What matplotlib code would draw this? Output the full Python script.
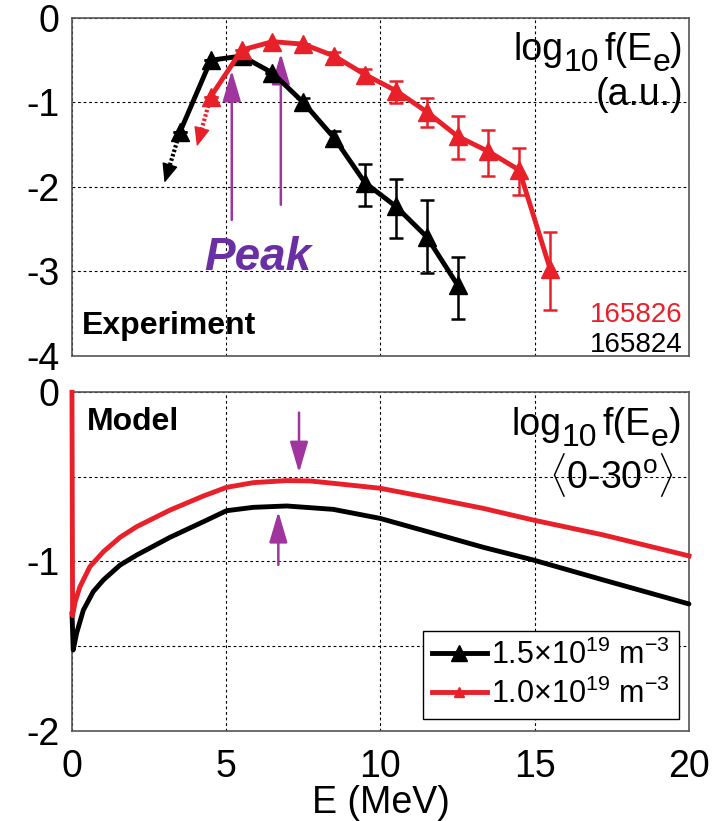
import matplotlib
matplotlib.use("Agg")
import matplotlib.pyplot as plt
from matplotlib.transforms import offset_copy

plt.rcParams['font.family'] = ['Liberation Sans', 'DejaVu Sans']
plt.rcParams['mathtext.fontset'] = 'custom'
plt.rcParams['mathtext.rm'] = 'Liberation Sans'
plt.rcParams['mathtext.it'] = 'Liberation Sans:italic'
plt.rcParams['mathtext.bf'] = 'Liberation Sans:bold'
plt.rcParams['axes.unicode_minus'] = False

RED = '#e8202a'
PURPLE = '#a0359e'
PEAK = '#6a2fa3'

# measured spectra (shot 165824, black)
e_824 = [3.5, 4.5, 5.5, 6.5, 7.5, 8.5, 9.5, 10.5, 11.5, 12.5]
f_824 = [-1.35, -0.50, -0.45, -0.65, -1.00, -1.42, -1.95, -2.23, -2.59, -3.16]
lo_824 = [0, 0, 0, 0, 0.05, 0.08, 0.27, 0.37, 0.43, 0.40]
hi_824 = [0, 0, 0, 0, 0.05, 0.08, 0.22, 0.33, 0.44, 0.33]

# measured spectra (shot 165826, red)
e_826 = [4.5, 5.5, 6.5, 7.5, 8.5, 9.5, 10.5, 11.5, 12.5, 13.5, 14.5, 15.5]
f_826 = [-0.93, -0.38, -0.28, -0.31, -0.45, -0.67, -0.86, -1.11, -1.40, -1.58, -1.80, -2.97]
lo_826 = [0, 0, 0, 0, 0.05, 0.09, 0.15, 0.18, 0.27, 0.29, 0.29, 0.49]
hi_826 = [0, 0, 0, 0, 0.05, 0.07, 0.11, 0.16, 0.24, 0.26, 0.26, 0.44]

# dotted arrows: lowest-energy points are only upper limits
limit_824 = [(3.5, -1.35), (3.0, -1.95)]
limit_826 = [(4.5, -0.93), (4.05, -1.52)]

# peak markers (x, y_from, y_to)
peaks_top = [(5.18, -2.39, -0.62), (6.77, -2.21, -0.42)]
peaks_model = [(7.36, -0.12, -0.475), (6.69, -1.02, -0.705)]

# model distributions
e_model_hi = [0, 0.04, 0.15, 0.37, 0.69, 1.02, 1.56, 2.10, 3.18, 4.26, 5.01, 5.88, 6.96,
              8.47, 9.98, 11.71, 13.33, 14.95, 17.22, 20.0]
f_model_hi = [-1.30, -1.523, -1.424, -1.287, -1.178, -1.109, -1.021, -0.962, -0.857, -0.765,
              -0.700, -0.680, -0.672, -0.692, -0.745, -0.833, -0.916, -0.991, -1.109, -1.251]
e_model_lo = [0, 0.02, 0.10, 0.26, 0.58, 1.02, 1.56, 2.10, 3.18, 4.26, 5.01, 5.88, 6.96,
              7.71, 8.47, 9.98, 11.71, 13.33, 14.95, 17.22, 20.0]
f_model_lo = [0, -1.32, -1.24, -1.149, -1.031, -0.942, -0.857, -0.794, -0.696, -0.613, -0.562,
              -0.534, -0.522, -0.524, -0.538, -0.567, -0.627, -0.686, -0.755, -0.843, -0.967]

x_ticks = [0, 5, 10, 15, 20]

# y-axis label pieces: (text, fontsize, vertical shift in px, gap after in px)
ylabel_parts = [('log', 27, 0, 0), ('10', 23, -11, 5), ('f(E', 27, 0, 0),
                ('e', 23, -11, 0), (')', 27, 0, 0)]


def style_axes(ax):
    for s in ax.spines.values():
        s.set_color('#555555')
        s.set_linewidth(1.2)
    ax.grid(True, color='black', linestyle=(0, (2.5, 2.5)), linewidth=0.8)
    ax.set_axisbelow(True)
    ax.tick_params(length=0, labelsize=27, pad=9)
    ax.tick_params(axis='x', pad=13)
    ax.set_xlim(0, 20)
    ax.set_xticks(x_ticks)


def dotted_arrow(ax, pts, color):
    (x0, y0), (x1, y1) = pts
    # head covers the last quarter, the shaft is a dotted line
    xb = x1 - 0.27 * (x1 - x0)
    yb = y1 - 0.27 * (y1 - y0)
    ax.plot([x0, xb], [y0, yb], color=color, lw=3, linestyle=(0, (0.6, 0.5)),
            dash_capstyle='butt', zorder=2)
    ax.annotate('', xy=(x1, y1), xytext=(xb, yb),
                arrowprops=dict(arrowstyle='-|>,head_length=0.6,head_width=0.25',
                                color=color, lw=1, shrinkA=0, shrinkB=0,
                                mutation_scale=20))


def peak_arrow(ax, x, y0, y1):
    ax.annotate('', xy=(x, y1), xytext=(x, y0),
                arrowprops=dict(arrowstyle='-|>,head_length=0.95,head_width=0.28',
                                color=PURPLE, lw=1.8, shrinkA=0, shrinkB=0,
                                mutation_scale=20))


def right_label(ax, x, y, parts):
    # lay out the pieces left to right so the whole label ends at (x, y)
    r = fig.canvas.get_renderer()
    texts, widths = [], []
    for s, size, dy, gap in parts:
        t = ax.text(x, y, s, fontsize=size, va='baseline', transform=ax.transAxes)
        texts.append(t)
        widths.append(t.get_window_extent(r).width + gap)
    cursor = -sum(widths)
    for t, w, (s, size, dy, gap) in zip(texts, widths, parts):
        t.set_transform(offset_copy(ax.transAxes, fig=fig, x=cursor, y=dy, units='dots'))
        cursor += w


fig = plt.figure(figsize=(7.14, 8.21), dpi=100)
ax1 = fig.add_axes([0.1008, 0.5664, 0.8641, 0.4117])
ax2 = fig.add_axes([0.1008, 0.1100, 0.8641, 0.4122])

# --- experiment ---
style_axes(ax1)
ax1.set_ylim(-4, 0)
ax1.set_yticks([0, -1, -2, -3, -4])
ax1.tick_params(labelbottom=False)

dotted_arrow(ax1, limit_824, 'black')
dotted_arrow(ax1, limit_826, RED)
ax1.errorbar(e_824, f_824, yerr=[lo_824, hi_824], color='black', lw=3.5, marker='^',
             ms=13, capsize=5, elinewidth=1.8, capthick=1.8, zorder=3)
ax1.errorbar(e_826, f_826, yerr=[lo_826, hi_826], color=RED, lw=3.5, marker='^',
             ms=13, capsize=5, elinewidth=1.8, capthick=1.8, zorder=4)
for x, y0, y1 in peaks_top:
    peak_arrow(ax1, x, y0, y1)

ax1.text(6.03, -2.98, 'Peak', color=PEAK, fontsize=33, fontweight='bold',
         fontstyle='italic', ha='center', va='baseline')
ax1.text(0.016, 0.065, 'Experiment', transform=ax1.transAxes, fontsize=23,
         fontweight='bold', va='baseline')
right_label(ax1, 0.99, 0.876, ylabel_parts)
ax1.text(0.99, 0.743, '(a.u.)', transform=ax1.transAxes, fontsize=27,
         ha='right', va='baseline')
ax1.text(0.99, 0.101, '165826', transform=ax1.transAxes, fontsize=20, color=RED,
         ha='right', va='baseline')
ax1.text(0.99, 0.013, '165824', transform=ax1.transAxes, fontsize=20,
         ha='right', va='baseline')

# --- model ---
style_axes(ax2)
ax2.set_ylim(-2, 0)
ax2.set_yticks([0, -0.5, -1, -1.5, -2])
ax2.set_yticklabels(['0', '', '-1', '', '-2'])

ax2.plot(e_model_hi, f_model_hi, color='black', lw=3.5, solid_joinstyle='round',
         solid_capstyle='round', clip_on=False, zorder=3)
ax2.plot(e_model_lo, f_model_lo, color=RED, lw=3.5, solid_joinstyle='round',
         clip_on=False, zorder=3)
for x, y0, y1 in peaks_model:
    peak_arrow(ax2, x, y0, y1)

h1, = ax2.plot([], [], color='black', lw=3.5, marker='^', ms=12)
h2, = ax2.plot([], [], color=RED, lw=3.5, marker='^', ms=7)
leg = ax2.legend([h1, h2], [r'1.5×10$^{19}$ m$^{-3}$', r'1.0×10$^{19}$ m$^{-3}$'],
                 loc='lower right', bbox_to_anchor=(0.984, 0.034), borderaxespad=0,
                 fontsize=22, fancybox=False, framealpha=1, edgecolor='black',
                 handlelength=1.8, handletextpad=0.15, borderpad=0.3, labelspacing=0.25)
leg.get_frame().set_linewidth(1.0)
leg.set_zorder(5)

ax2.text(0.024, 0.889, 'Model', transform=ax2.transAxes, fontsize=23,
         fontweight='bold', va='baseline')
right_label(ax2, 0.987, 0.874, ylabel_parts)
ax2.text(0.975, 0.717, r'$\langle$0-30$^{\rm o}$$\rangle$', transform=ax2.transAxes,
         fontsize=27, ha='right', va='baseline')
ax2.set_xlabel('E (MeV)', fontsize=27, labelpad=0)

fig.savefig('out.png', dpi=100)
